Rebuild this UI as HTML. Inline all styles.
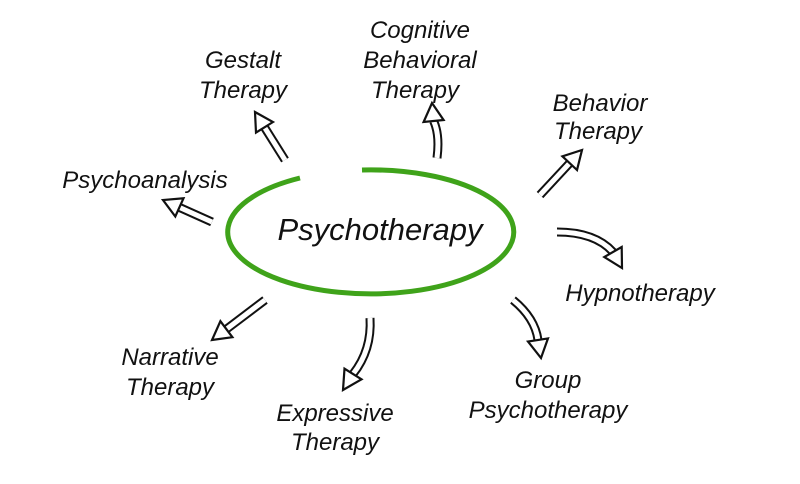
<!DOCTYPE html>
<html><head><meta charset="utf-8"><style>
html,body{margin:0;padding:0;background:#fff;}
svg{display:block}
text{font-family:"Liberation Sans","DejaVu Sans",sans-serif;font-style:italic;fill:#111;text-anchor:middle;}
.l{font-size:24px;}
.s1{fill:none;stroke:#111;stroke-width:9;stroke-linecap:butt}
.s2{fill:none;stroke:#fff;stroke-width:5;stroke-linecap:butt}
.h{fill:#fff;stroke:#111;stroke-width:2.2;stroke-linejoin:miter}
</style></head><body>
<svg width="800" height="484" viewBox="0 0 800 484" xmlns="http://www.w3.org/2000/svg">
<rect width="800" height="484" fill="#fff"/>
<path d="M362,170 A143,62 0 1 1 300,178" fill="none" stroke="#3fa31a" stroke-width="5"/>
<text x="380" y="240" style="font-size:31px">Psychotherapy</text>

<text class="l" x="243" y="68">Gestalt</text>
<text class="l" x="243" y="98">Therapy</text>
<text class="l" x="420" y="38">Cognitive</text>
<text class="l" x="420" y="68">Behavioral</text>
<text class="l" x="415" y="98">Therapy</text>
<text class="l" x="600" y="111">Behavior</text>
<text class="l" x="598" y="139">Therapy</text>
<text class="l" x="145" y="188">Psychoanalysis</text>
<text class="l" x="640" y="301">Hypnotherapy</text>
<text class="l" x="170" y="365">Narrative</text>
<text class="l" x="170" y="395">Therapy</text>
<text class="l" x="335" y="421">Expressive</text>
<text class="l" x="335" y="450">Therapy</text>
<text class="l" x="548" y="388">Group</text>
<text class="l" x="548" y="418">Psychotherapy</text>

<g>
<path class="s1" d="M285,160 L264.5,127.3"/><path class="s2" d="M285,160 L264.5,127.3"/>
<polygon class="h" points="273,122 256,132.6 255,112"/>

<path class="s1" d="M437,158 Q440,135 433.6,121"/><path class="s2" d="M437,158 Q440,135 433.6,121"/>
<polygon class="h" points="443.6,120 423.6,122 432,103"/>

<path class="s1" d="M540,195 L569.7,163.1"/><path class="s2" d="M540,195 L569.7,163.1"/>
<polygon class="h" points="577,170 562.4,156.3 582,150"/>

<path class="s1" d="M212,222 L179.4,207.4"/><path class="s2" d="M212,222 L179.4,207.4"/>
<polygon class="h" points="183.5,198.3 175.3,216.5 163,200"/>

<path class="s1" d="M557,232 Q595,232 613,252"/><path class="s2" d="M557,232 Q595,232 613,252"/>
<polygon class="h" points="621.7,247 604.3,257 622,268"/>

<path class="s1" d="M513,300 Q535,318 538,340"/><path class="s2" d="M513,300 Q535,318 538,340"/>
<polygon class="h" points="548,338.4 528,341.6 541,358"/>

<path class="s1" d="M370,318 Q372,350 353,374"/><path class="s2" d="M370,318 Q372,350 353,374"/>
<polygon class="h" points="361.5,379.3 344.5,368.7 343,390"/>

<path class="s1" d="M265,300 L226.4,329.2"/><path class="s2" d="M265,300 L226.4,329.2"/>
<polygon class="h" points="232.4,337.2 220.4,321.2 212,340"/>
</g>
</svg>
</body></html>
